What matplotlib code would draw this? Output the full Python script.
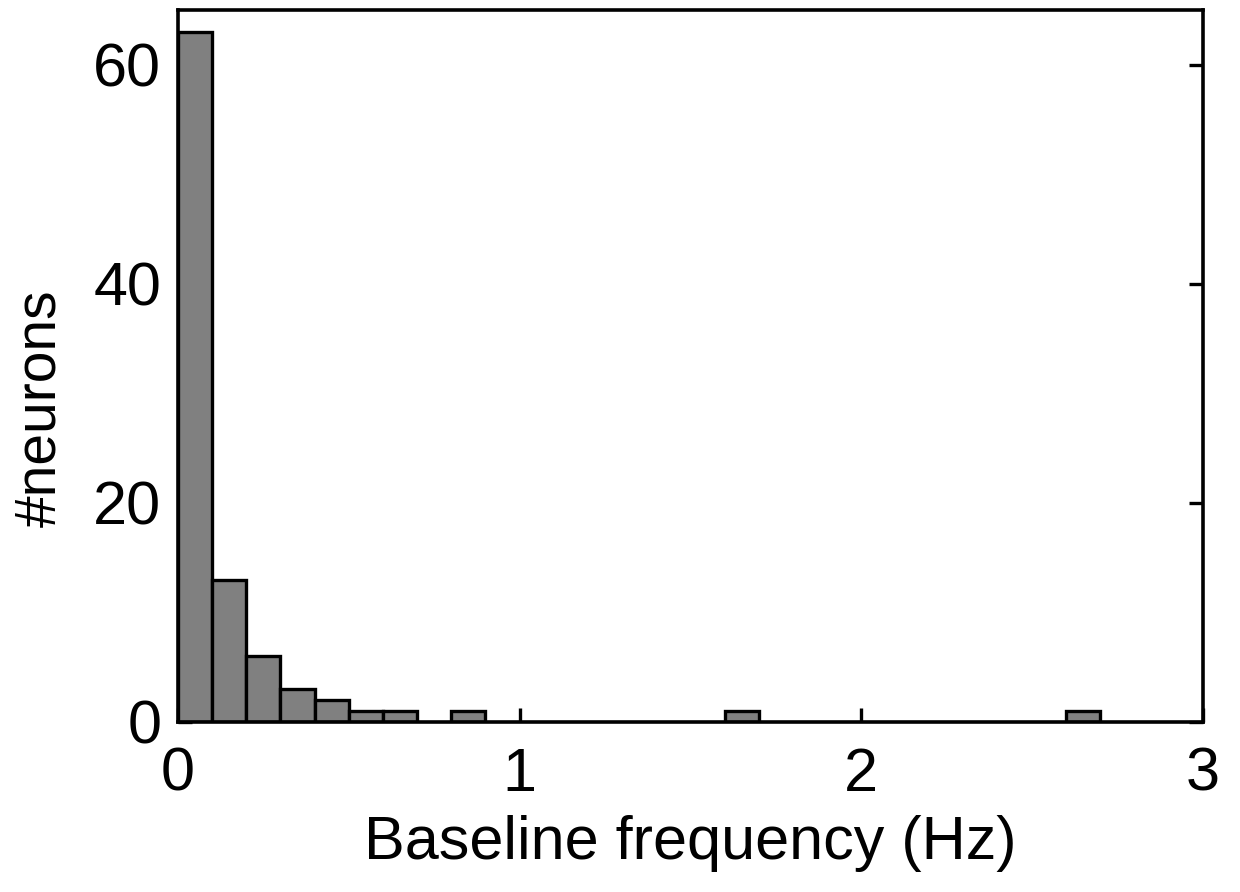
import matplotlib.pyplot as plt

# histogram of baseline firing rates, bin width 0.1 Hz (non-empty bins only)
bin_left = [0.0, 0.1, 0.2, 0.3, 0.4, 0.5, 0.6, 0.8, 1.6, 2.6]
counts = [63, 13, 6, 3, 2, 1, 1, 1, 1, 1]
x_ticks = [0, 1, 2, 3]
y_ticks = [0, 20, 40, 60]

plt.rcParams["font.family"] = ["Liberation Sans", "DejaVu Sans"]

fig = plt.figure(figsize=(12.4, 8.92), dpi=100)
ax = fig.add_axes([0.1435, 0.1906, 0.8265, 0.7982])

ax.bar(bin_left, counts, width=0.1, align="edge", color="#808080",
       edgecolor="black", linewidth=2.4, zorder=3)

ax.set_xlim(0, 3)
ax.set_ylim(0, 65)
ax.set_xticks(x_ticks)
ax.set_yticks(y_ticks)
ax.tick_params(direction="in", length=10, width=2.4, labelsize=44,
               top=False, right=True)
ax.tick_params(axis="x", pad=18)
ax.tick_params(axis="y", pad=12)
for s in ax.spines.values():
    s.set_linewidth(2.6)
    s.set_zorder(4)

ax.set_xlabel("Baseline frequency (Hz)", fontsize=44, labelpad=8)
ax.set_ylabel("#neurons", fontsize=41)
ax.yaxis.set_label_coords(-0.108, 0.44)

fig.savefig("out.png", dpi=100)
